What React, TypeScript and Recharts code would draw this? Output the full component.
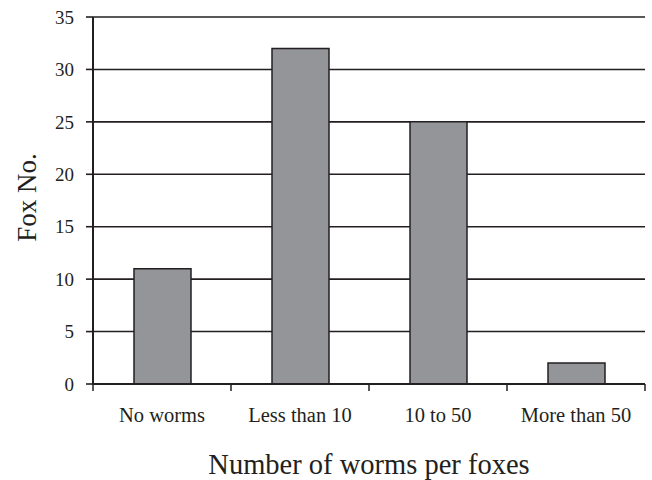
import React from "react";
import { BarChart, Bar, XAxis, YAxis, CartesianGrid, Label } from "recharts";

const categories = ["No worms", "Less than 10", "10 to 50", "More than 50"];
const foxCounts = [11, 32, 25, 2];
const yTicks = [0, 5, 10, 15, 20, 25, 30, 35];

const data = categories.map((c, i) => ({ category: c, count: foxCounts[i] }));

const FONT = "'Liberation Serif', 'Times New Roman', serif";
const INK = "#231f20";

const CategoryTick = (props: any) => {
  const { x, y, payload, index, visibleTicksCount } = props;
  const off = payload && payload.offset ? payload.offset : 69;
  const axisY = y - 24;
  return (
    <g>
      <line x1={x - off} y1={axisY} x2={x - off} y2={axisY + 7} stroke={INK} strokeWidth={1.5} />
      {index === visibleTicksCount - 1 ? (
        <line x1={x + off} y1={axisY} x2={x + off} y2={axisY + 7} stroke={INK} strokeWidth={1.5} />
      ) : null}
      <text x={x} y={y + 14} textAnchor="middle" fontFamily={FONT} fontSize={20.5} fill={INK}>
        {payload.value}
      </text>
    </g>
  );
};

const YTitle = (props: any) => {
  const { viewBox } = props;
  const cy = viewBox.y + viewBox.height / 2 - 3;
  const cx = 27;
  return (
    <text
      x={cx}
      y={cy}
      transform={`rotate(-90, ${cx}, ${cy})`}
      textAnchor="middle"
      dominantBaseline="central"
      fontFamily={FONT}
      fontSize={27}
      fill={INK}
    >
      Fox No.
    </text>
  );
};

const XTitle = (props: any) => {
  const { viewBox } = props;
  const cx = viewBox.x + viewBox.width / 2;
  return (
    <text x={cx} y={474} textAnchor="middle" fontFamily={FONT} fontSize={28.5} fill={INK}>
      Number of worms per foxes
    </text>
  );
};

export default function App() {
  return (
    <div style={{ position: "absolute", left: 0, top: 0, width: 652, height: 480, background: "#fff" }}>
      <BarChart
        width={652}
        height={480}
        data={data}
        margin={{ top: 17, right: 7, left: 0, bottom: 0 }}
        barSize={57}
      >
        <CartesianGrid horizontal vertical={false} stroke={INK} strokeWidth={1.6} strokeOpacity={1} />
        <XAxis
          dataKey="category"
          height={96}
          tickLine={false}
          tickSize={7}
          tickMargin={17}
          axisLine={{ stroke: INK, strokeWidth: 2 }}
          tick={<CategoryTick />}
          interval={0}
        >
          <Label content={<XTitle />} />
        </XAxis>
        <YAxis
          width={93}
          domain={[0, 35]}
          ticks={yTicks}
          interval={0}
          tickSize={7}
          tickMargin={12}
          tickLine={{ stroke: INK, strokeWidth: 1.6 }}
          axisLine={{ stroke: INK, strokeWidth: 2 }}
          tick={{ fontFamily: FONT, fontSize: 19, fill: INK }}
        >
          <Label content={<YTitle />} />
        </YAxis>
        <Bar dataKey="count" fill="#939598" stroke={INK} strokeWidth={1.5} isAnimationActive={false} />
      </BarChart>
    </div>
  );
}
